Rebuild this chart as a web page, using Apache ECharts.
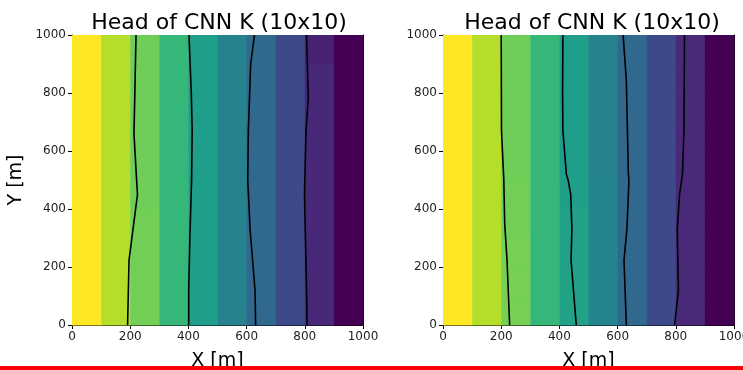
<!DOCTYPE html>
<html>
<head>
<meta charset="utf-8">
<script src="https://cdn.jsdelivr.net/npm/echarts@6/dist/echarts.min.js"></script>
<style>html,body{margin:0;padding:0;background:#fff}#c{width:743px;height:370px}</style>
</head>
<body>
<div id="c"></div>
<script>
// Cell centres (m)
const xCenters = [50,150,250,350,450,550,650,750,850,950];
const yCenters = [50,150,250,350,450,550,650,750,850,950];
const axisTicks = [0,200,400,600,800,1000];
const titles = ['Head of CNN K (10x10)', 'Head of CNN K (10x10)'];

// Head values, rows from bottom (y=0-100) to top (y=900-1000)
const leftHead = [
  [9,8,7.05,6,5,4,3,2,1,0],
  [9,8,7.05,6,5,4,3,2,1,0],
  [9,8,7.05,6,5,4,3,2,1,0],
  [9,8,7.05,6,5,4,3,2,1,0],
  [9,8,7,6,5,4,3,2,1,0],
  [9,8,7,6,5,4,3,2,1,0],
  [9,8,7,6,5,4,3,2,1,0],
  [9,8,7,6,5,4,3,2,1,0],
  [9,8,7,6,5,4,3.1,2,1,0],
  [9,8,7,6,5,4,3.1,2,0.85,0]
];
const rightHead = [
  [9,8,7.1,6,5.15,4.1,3,2,1.05,0],
  [9,8,7.1,6,5.15,4.1,3,2,1.05,0],
  [9,8,7.1,6,5.1,4.1,3,2,1.05,0],
  [9,8,7.05,6,5.1,4.1,3,2,1.05,0],
  [9,8,7.05,6,5.05,4.1,3,2,1.05,0],
  [9,8,7,6,5,4.05,3,2,1.05,0],
  [9,8,7,6,5,4.05,3,2,1.05,0],
  [9,8,7,6,5,4.05,3,2,1.05,0],
  [9,8,7,6,5,4.05,3,2,1.05,0],
  [9,8,7,6,5,4.05,3,2,1.05,0]
];

// Contour lines [x, y]
const leftContours = [
  [[191,0],[196,224],[225,450],[222,500],[213,660],[216,800],[220,1000]],
  [[401,0],[401,120],[405,300],[411,500],[413,670],[410,800],[402,1000]],
  [[631,0],[629,120],[612,330],[604,500],[606,670],[614,900],[627,1000]],
  [[808,0],[806,120],[799,450],[804,670],[812,780],[806,1000]]
];
const rightContours = [
  [[229,0],[220,224],[212,350],[209,500],[201,670],[200,1000]],
  [[458,0],[440,224],[443,330],[439,450],[430,500],[424,520],[412,670],[411,800],[412,1000]],
  [[630,0],[622,224],[632,330],[639,500],[637,520],[630,845],[619,1000]],
  [[796,0],[809,120],[805,330],[813,450],[823,520],[828,670],[830,1000]]
];

const viridis = ['#440154','#482878','#3e4989','#31688e','#26828e','#1f9e89','#35b779','#6ece58','#b5de2b','#fde725'];

function cells(grid){
  const out = [];
  for (let r = 0; r < yCenters.length; r++)
    for (let c = 0; c < xCenters.length; c++)
      out.push([xCenters[c], yCenters[r], grid[r][c]]);
  return out;
}

const font = 'DejaVu Sans';
const grids = [
  {left:72, top:35, width:291, height:290, outerBoundsMode:'none', containLabel:false},
  {left:443, top:35, width:291, height:290, outerBoundsMode:'none', containLabel:false}
];
const xAxes = [], yAxes = [], series = [];
[0,1].forEach(i => {
  xAxes.push({
    gridIndex:i, type:'value', min:0, max:1000, interval:200, position:'bottom',
    name: 'X [m]', nameLocation:'middle', nameGap:27,
    nameTextStyle:{fontFamily:font, fontSize:19, color:'#000'},
    axisLine:{show:true, onZero:false, lineStyle:{color:'#000', width:1}},
    axisTick:{show:true, length:4, lineStyle:{color:'#000'}},
    axisLabel:{fontFamily:font, fontSize:12, color:'#222', margin:6, formatter: v => String(v)},
    splitLine:{show:false}
  });
  xAxes.push({
    gridIndex:i, type:'value', min:0, max:1000, position:'top',
    axisLine:{show:true, onZero:false, lineStyle:{color:'#000', width:1}},
    axisTick:{show:false}, axisLabel:{show:false}, splitLine:{show:false}
  });
  yAxes.push({
    gridIndex:i, type:'value', min:0, max:1000, interval:200, position:'left',
    name: i === 0 ? 'Y [m]' : '', nameLocation:'middle', nameGap:46, nameRotate:90,
    nameTextStyle:{fontFamily:font, fontSize:19, color:'#000'},
    axisLine:{show:true, onZero:false, lineStyle:{color:'#000', width:1}},
    axisTick:{show:true, length:4, lineStyle:{color:'#000'}},
    axisLabel:{fontFamily:font, fontSize:12, color:'#222', margin:6, formatter: v => String(v)},
    splitLine:{show:false}
  });
  yAxes.push({
    gridIndex:i, type:'value', min:0, max:1000, position:'right',
    axisLine:{show:true, onZero:false, lineStyle:{color:'#000', width:1}},
    axisTick:{show:false}, axisLabel:{show:false}, splitLine:{show:false}
  });
  const grid = i === 0 ? leftHead : rightHead;
  series.push({
    type:'custom', xAxisIndex:i*2, yAxisIndex:i*2, coordinateSystem:'cartesian2d',
    data: cells(grid), encode:{x:0, y:1},
    renderItem: function(params, api){
      const x = api.value(0), y = api.value(1);
      const p0 = api.coord([x-50, y+50]);
      const p1 = api.coord([x+50, y-50]);
      return {type:'rect', shape:{x:p0[0], y:p0[1], width:p1[0]-p0[0]+0.5, height:p1[1]-p0[1]+0.5},
        style:{fill: api.visual('color')}};
    },
    z:1, silent:true
  });
  const contours = i === 0 ? leftContours : rightContours;
  contours.forEach(line => {
    series.push({
      type:'line', xAxisIndex:i*2, yAxisIndex:i*2, data: line,
      showSymbol:false, symbol:'none', smooth:false,
      lineStyle:{color:'#000', width:1.6}, z:5, silent:true, animation:false
    });
  });
});

const chart = echarts.init(document.getElementById('c'), null, {renderer:'canvas'});
chart.setOption({
  animation:false,
  backgroundColor:'#fff',
  title: [
    {text:titles[0], left:214, top:7, textAlign:'center', textStyle:{fontFamily:font, fontSize:22, fontWeight:'normal', color:'#000'}},
    {text:titles[1], left:587, top:7, textAlign:'center', textStyle:{fontFamily:font, fontSize:22, fontWeight:'normal', color:'#000'}}
  ],
  grid: grids,
  xAxis: xAxes,
  yAxis: yAxes,
  visualMap: {
    type:'continuous', show:false, min:0, max:9, dimension:2,
    seriesIndex:[0,5], inRange:{color:viridis}
  },
  series: series,
  graphic: [
    {type:'rect', shape:{x:0, y:366, width:743, height:4}, style:{fill:'#ff0000'}, z:100}
  ]
});
</script>
</body>
</html>
